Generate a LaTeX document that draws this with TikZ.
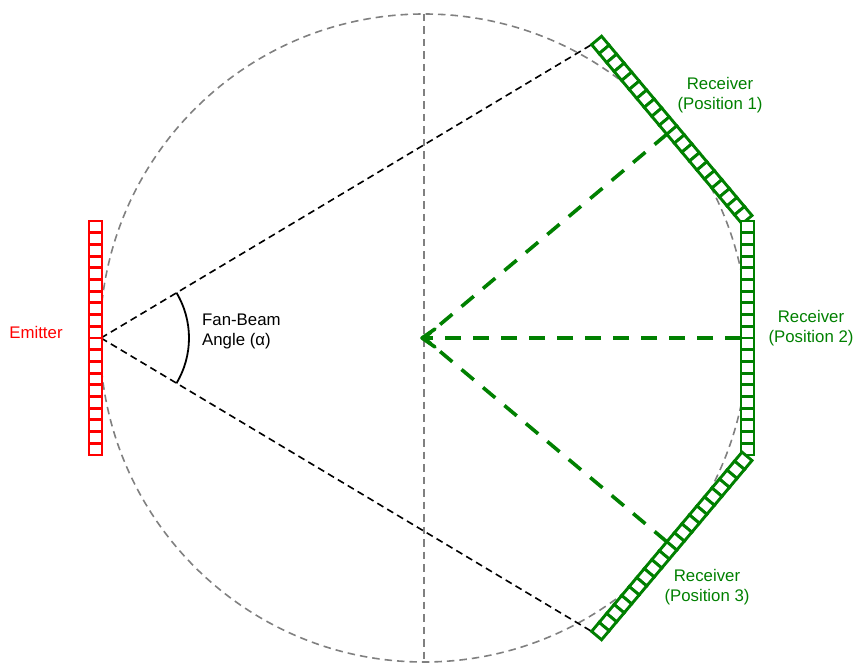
\documentclass[tikz,border=0pt]{standalone}
\usepackage{fontspec}
\setmainfont{Liberation Sans}
\usetikzlibrary{arrows.meta}
\definecolor{rgreen}{RGB}{0,128,0}

\begin{document}
\begin{tikzpicture}[x=1pt,y=1pt,font=\fontsize{16.8}{20}\selectfont,
guide/.style={draw=gray,line width=1.6pt,dash pattern=on 7.5pt off 5pt},
ray/.style={draw=black,line width=1.6pt,dash pattern=on 7pt off 4.5pt},
beam/.style={draw=rgreen,line width=3.6pt,dash pattern=on 16pt off 12pt},
cell/.style={line width=2.9pt,fill=white},
lbl/.style={align=center,inner sep=0pt}]
\useasboundingbox (-424,-326) rectangle (433,338);
\coordinate (o) at (0,0);
\coordinate (em) at (-323,0);
% scan circle and axis
\draw[guide] (o) circle[radius=324];
\draw[guide] (0,324) -- (0,-324);
% receiver positions (turned about the centre)
\foreach \a/\n in {40/1,0/2,-40/3}{
\begin{scope}[rotate=\a]
\coordinate (r\n) at (317,0);
\coordinate (r\n-top) at (317,117);
\coordinate (r\n-bot) at (317,-117);
\end{scope}}
% fan beam
\path[ray] (em) edge (r1-top) (em) edge (r3-bot);
\draw[line width=1.8pt] (em) ++(-31:88) arc[start angle=-31,end angle=31,radius=88];
\path[beam] (r1) edge (o) (r3) edge (o) (r2) edge (o);
% open head at the centre
\draw[rgreen,line width=3.6pt,line join=round,line cap=round]
  ([shift={(11,9)}]o) -- ([shift={(-2,0)}]o) -- ([shift={(11,-9)}]o);
% detector cells
\foreach \i in {0,...,19}
\draw[cell,draw=red] (-335,117-\i*11.7) rectangle ++(13,-11.7);
\foreach \a in {40,0,-40}{
\begin{scope}[rotate=\a]
\foreach \i in {0,...,19}
\draw[cell,draw=rgreen] (317,117-\i*11.7) rectangle ++(13,-11.7);
\end{scope}}
% labels
\node[lbl,red] (emlbl) at (-388,6) {Emitter};
\node[lbl,anchor=west,align=left] (fanlbl) at (-222,7) {Fan-Beam\\Angle (α)};
\node[lbl,rgreen] (rlbl1) at (296,243) {Receiver\\(Position 1)};
\node[lbl,rgreen] (rlbl2) at (387,10) {Receiver\\(Position 2)};
\node[lbl,rgreen] (rlbl3) at (283,-249) {Receiver\\(Position 3)};
\end{tikzpicture}
\end{document}
